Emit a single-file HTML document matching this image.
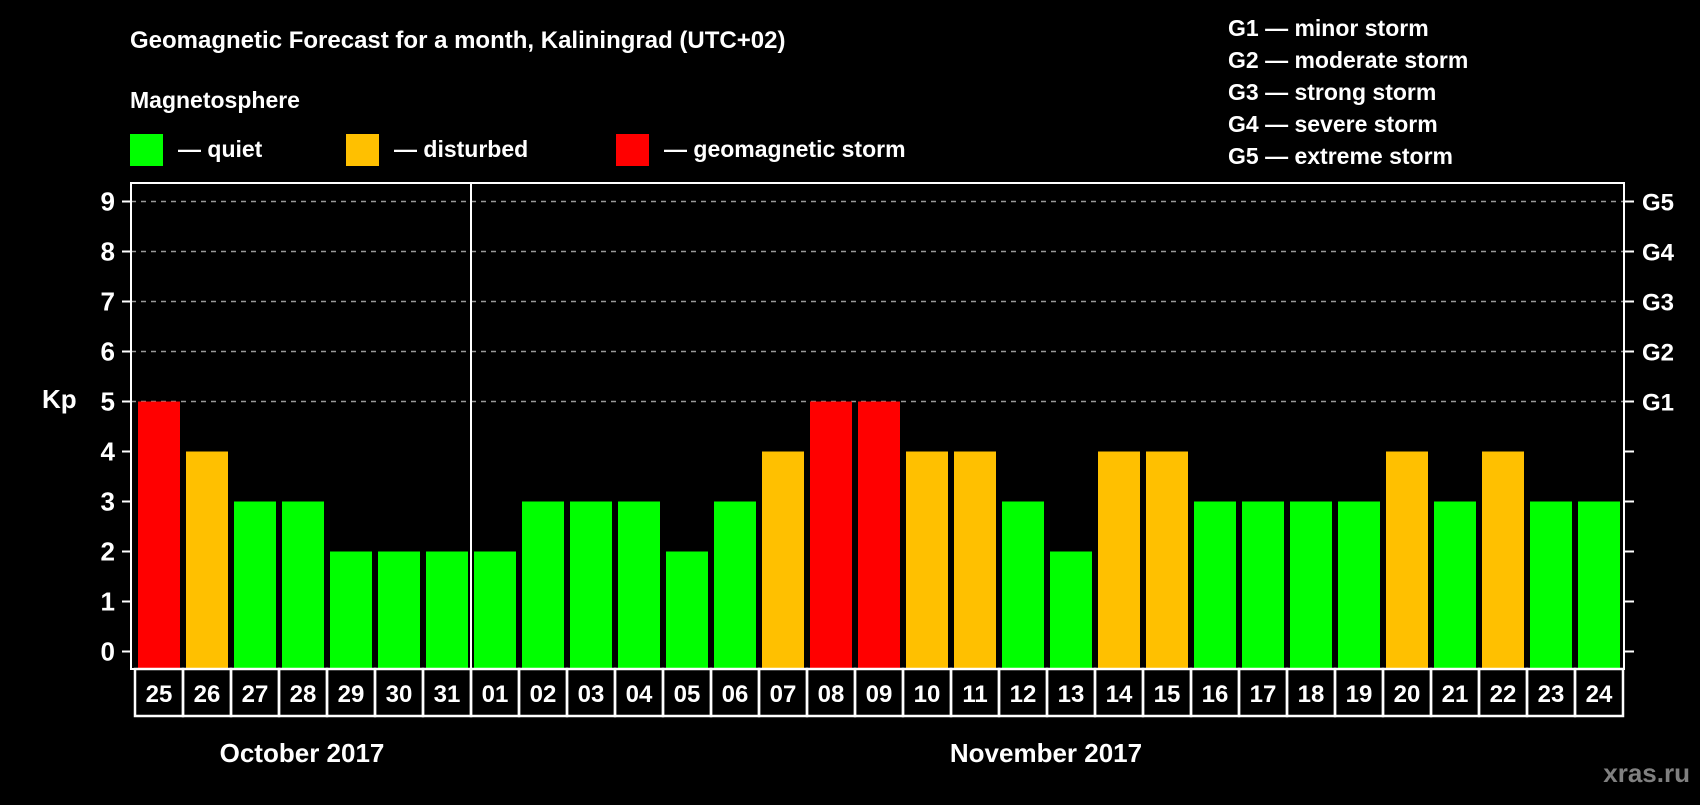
<!DOCTYPE html>
<html><head><meta charset="utf-8"><style>
html,body{margin:0;padding:0;background:#000;}
svg text{font-family:"Liberation Sans",Arial,sans-serif;font-weight:bold;fill:#fff;}
</style></head><body>
<svg id="chart" width="1700" height="800" viewBox="0 0 1700 800" xmlns="http://www.w3.org/2000/svg">
<rect width="1700" height="800" fill="#000"/>
<text x="130" y="48" font-size="24">Geomagnetic Forecast for a month, Kaliningrad (UTC+02)</text>
<text x="130" y="108" font-size="23">Magnetosphere</text>
<rect x="130" y="134" width="33" height="32" fill="#00ff00"/>
<text x="178" y="157" font-size="23">— quiet</text>
<rect x="346" y="134" width="33" height="32" fill="#ffc000"/>
<text x="394" y="157" font-size="23">— disturbed</text>
<rect x="616" y="134" width="33" height="32" fill="#ff0000"/>
<text x="664" y="157" font-size="23">— geomagnetic storm</text>
<g font-size="23">
<text x="1228" y="36">G1 — minor storm</text>
<text x="1228" y="68">G2 — moderate storm</text>
<text x="1228" y="100">G3 — strong storm</text>
<text x="1228" y="132">G4 — severe storm</text>
<text x="1228" y="164">G5 — extreme storm</text>
</g>
<text x="42" y="408" font-size="26">Kp</text>
<g id="plot"></g>
<text x="302" y="762" font-size="26" text-anchor="middle">October 2017</text>
<text x="1046" y="762" font-size="26" text-anchor="middle">November 2017</text>
<text x="1690" y="782" font-size="26" text-anchor="end" style="fill:#808080">xras.ru</text>
</svg>
<script>
const days = ["25","26","27","28","29","30","31","01","02","03","04","05","06","07","08","09","10","11","12","13","14","15","16","17","18","19","20","21","22","23","24"];
const kp = [5,4,3,3,2,2,2,2,3,3,3,2,3,4,5,5,4,4,3,2,4,4,3,3,3,3,4,3,4,3,3];
const yTicks = [0,1,2,3,4,5,6,7,8,9];
const gLabels = ["","","","","","G1","G2","G3","G4","G5"];

const NS="http://www.w3.org/2000/svg";
const g=document.getElementById('plot');
const x0=135, pitch=48, plotL=131, plotR=1624, plotT=183, plotB=669;
const y=v=>651.5-v*50;
const xs=i=>x0+i*pitch;
function mk(t,a){const e=document.createElementNS(NS,t);for(const k in a)e.setAttribute(k,a[k]);g.appendChild(e);return e;}
const col=v=>v>=5?"#ff0000":(v>=4?"#ffc000":"#00ff00");

yTicks.forEach(v=>{
  if(v>=5){const l=mk('line',{x1:plotL,x2:plotR,y1:y(v),y2:y(v),stroke:'#999','stroke-width':1.5,'stroke-dasharray':'5,5'});
  
  }
  const t1=mk('line',{x1:122,x2:plotL,y1:y(v),y2:y(v),stroke:'#fff','stroke-width':2});
  
  
  const t2=mk('line',{x1:plotR,x2:1634,y1:y(v),y2:y(v),stroke:'#fff','stroke-width':2});
  
  
  const lb=mk('text',{x:115,y:y(v)+9,'font-size':26,'text-anchor':'end'});lb.textContent=v;
  
  
  if(gLabels[v]){const gl=mk('text',{x:1642,y:y(v)+9,'font-size':24});gl.textContent=gLabels[v];
  
  }
});
kp.forEach((v,i)=>{
  const b=mk('rect',{x:xs(i)+3,y:y(v),width:42,height:plotB-1-y(v),fill:col(v)});
  
  
  const c=mk('rect',{x:xs(i),y:plotB,width:pitch,height:47,fill:'none',stroke:'#fff','stroke-width':2.5});
  
  
  const t=mk('text',{x:xs(i)+pitch/2,y:plotB+33,'font-size':24,'text-anchor':'middle'});t.textContent=days[i];
  
  
});
const fr=mk('rect',{x:plotL,y:plotT,width:plotR-plotL,height:plotB-plotT,fill:'none',stroke:'#fff','stroke-width':2});


const dv=mk('line',{x1:xs(7),x2:xs(7),y1:plotT,y2:plotB,stroke:'#fff','stroke-width':2});


</script>
</body></html>
